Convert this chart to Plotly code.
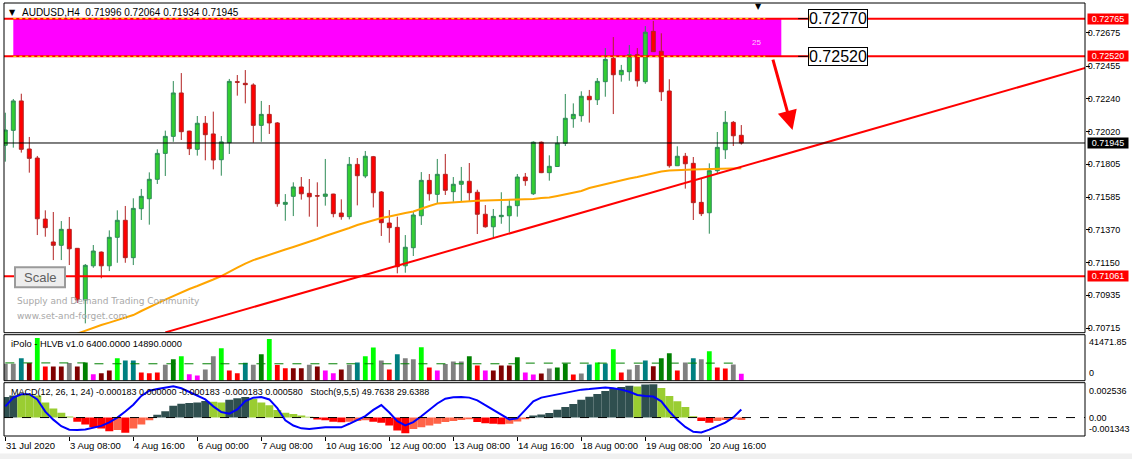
import plotly.graph_objects as go

# ---------------- data ----------------
tick_bars = [0, 8, 16, 24, 32, 40, 48, 56, 64, 72, 80, 88]
tick_labels = ["31 Jul 2020", "3 Aug 08:00", "4 Aug 16:00", "6 Aug 00:00", "7 Aug 08:00",
               "10 Aug 16:00", "12 Aug 00:00", "13 Aug 08:00", "14 Aug 16:00",
               "18 Aug 00:00", "19 Aug 08:00", "20 Aug 16:00"]

opens = [0.71930, 0.72029, 0.72224, 0.71905, 0.71845, 0.71440, 0.71288, 0.71266, 0.71372, 0.71246,
         0.70903, 0.71130, 0.71221, 0.71130, 0.71319, 0.71432, 0.71184, 0.71509, 0.71575, 0.71704,
         0.71876, 0.71989, 0.72277, 0.72024, 0.71903, 0.72076, 0.72005, 0.71834, 0.71947, 0.72352,
         0.72341, 0.72330, 0.72062, 0.72135, 0.72078, 0.71538, 0.71591, 0.71653, 0.71611, 0.71595,
         0.71591, 0.71606, 0.71480, 0.71456, 0.71803, 0.71726, 0.71854, 0.71620, 0.71414, 0.71385,
         0.71130, 0.71250, 0.71462, 0.71697, 0.71604, 0.71737, 0.71622, 0.71671, 0.71691, 0.71618,
         0.71472, 0.71389, 0.71456, 0.71462, 0.71529, 0.71719, 0.71608, 0.71950, 0.71748, 0.71789,
         0.71943, 0.72106, 0.72126, 0.72255, 0.72232, 0.72352, 0.72507, 0.72398, 0.72418, 0.72531,
         0.72352, 0.72686, 0.72554, 0.72290, 0.71794, 0.71857, 0.71810, 0.71551, 0.71482, 0.71761,
         0.71900, 0.72082, 0.71996]
highs = [0.72146, 0.72237, 0.72272, 0.71985, 0.71859, 0.71498, 0.71487, 0.71427, 0.71454, 0.71248,
         0.71142, 0.71268, 0.71225, 0.71365, 0.71498, 0.71527, 0.71578, 0.71640, 0.71750, 0.71903,
         0.72027, 0.72356, 0.72409, 0.72026, 0.72124, 0.72124, 0.72153, 0.71991, 0.72370, 0.72396,
         0.72429, 0.72341, 0.72224, 0.72197, 0.72084, 0.71606, 0.71684, 0.71719, 0.71706, 0.71684,
         0.71839, 0.71608, 0.71571, 0.71852, 0.71845, 0.71892, 0.71859, 0.71626, 0.71500, 0.71456,
         0.71334, 0.71487, 0.71752, 0.71739, 0.71839, 0.71872, 0.71719, 0.71786, 0.71812, 0.71635,
         0.71533, 0.71507, 0.71618, 0.71573, 0.71739, 0.71746, 0.71956, 0.71955, 0.71863, 0.71991,
         0.72270, 0.72208, 0.72288, 0.72297, 0.72376, 0.72575, 0.72648, 0.72463, 0.72595, 0.72575,
         0.72721, 0.72755, 0.72673, 0.72368, 0.71923, 0.71879, 0.71852, 0.71711, 0.71810, 0.72018,
         0.72157, 0.72091, 0.72064]
lows = [0.71821, 0.71914, 0.71881, 0.71748, 0.71334, 0.71323, 0.71168, 0.71168, 0.71135, 0.70883,
        0.70748, 0.71117, 0.71047, 0.71095, 0.71150, 0.71150, 0.71135, 0.71434, 0.71403, 0.71673,
        0.71726, 0.71953, 0.71965, 0.71865, 0.71861, 0.71830, 0.71770, 0.71728, 0.71872, 0.72259,
        0.72208, 0.71947, 0.71953, 0.72005, 0.71522, 0.71429, 0.71460, 0.71569, 0.71456, 0.71389,
        0.71529, 0.71452, 0.71436, 0.71438, 0.71531, 0.71712, 0.71517, 0.71328, 0.71283, 0.71080,
        0.71084, 0.71195, 0.71401, 0.71562, 0.71545, 0.71600, 0.71555, 0.71555, 0.71555, 0.71341,
        0.71383, 0.71319, 0.71409, 0.71352, 0.71456, 0.71661, 0.71600, 0.71745, 0.71695, 0.71788,
        0.71925, 0.72046, 0.72086, 0.72080, 0.72197, 0.72252, 0.72137, 0.72352, 0.72358, 0.72319,
        0.72338, 0.72549, 0.72224, 0.71781, 0.71794, 0.71642, 0.71434, 0.71460, 0.71343, 0.71744,
        0.71839, 0.71925, 0.71934]
closes = [0.72031, 0.72224, 0.71903, 0.71843, 0.71442, 0.71383, 0.71266, 0.71372, 0.71243, 0.70903,
          0.71133, 0.71228, 0.71130, 0.71319, 0.71432, 0.71184, 0.71511, 0.71591, 0.71704, 0.71876,
          0.71989, 0.72277, 0.72020, 0.71907, 0.72076, 0.72000, 0.71832, 0.71952, 0.72354, 0.72348,
          0.72332, 0.72062, 0.72135, 0.72078, 0.71542, 0.71551, 0.71653, 0.71608, 0.71588, 0.71593,
          0.71606, 0.71476, 0.71456, 0.71803, 0.71728, 0.71857, 0.71615, 0.71416, 0.71383, 0.71124,
          0.71253, 0.71467, 0.71697, 0.71608, 0.71737, 0.71631, 0.71671, 0.71691, 0.71615, 0.71472,
          0.71389, 0.71458, 0.71465, 0.71525, 0.71719, 0.71695, 0.71950, 0.71748, 0.71790, 0.71943,
          0.72109, 0.72135, 0.72255, 0.72232, 0.72354, 0.72500, 0.72398, 0.72427, 0.72531, 0.72358,
          0.72680, 0.72551, 0.72285, 0.71794, 0.71857, 0.71807, 0.71549, 0.71476, 0.71761, 0.71916,
          0.72082, 0.71993, 0.71945]

ma_start = 9
ma_values = [0.70680, 0.70700, 0.70717, 0.70737, 0.70753, 0.70770, 0.70787, 0.70803, 0.70830, 0.70853,
             0.70880, 0.70906, 0.70929, 0.70956, 0.70976, 0.70996, 0.71016, 0.71039, 0.71062, 0.71092,
             0.71118, 0.71145, 0.71168, 0.71185, 0.71201, 0.71218, 0.71238, 0.71255, 0.71271, 0.71288,
             0.71308, 0.71328, 0.71345, 0.71361, 0.71381, 0.71401, 0.71417, 0.71434, 0.71447, 0.71457,
             0.71470, 0.71480, 0.71490, 0.71510, 0.71527, 0.71543, 0.71547, 0.71553, 0.71557, 0.71560,
             0.71562, 0.71563, 0.71565, 0.71565, 0.71567, 0.71567, 0.71570, 0.71573, 0.71580, 0.71583,
             0.71593, 0.71603, 0.71611, 0.71626, 0.71646, 0.71659, 0.71673, 0.71686, 0.71696, 0.71709,
             0.71719, 0.71732, 0.71746, 0.71756, 0.71762, 0.71766, 0.71768, 0.71769, 0.71770, 0.71772,
             0.71774, 0.71775, 0.71776, 0.71777]

trend_bars = [20, 135]
trend_prices = [0.70688, 0.72443]

zone_bars = [1, 97]
zone_prices = [0.72520, 0.72770]
red_levels = [0.72770, 0.72520, 0.71061]
bid_price = 0.71945
axis_tags = [("0.72765", 0.72770, "#FF0000"), ("0.72520", 0.72520, "#FF0000"),
             ("0.71945", 0.71945, "#000000"), ("0.71061", 0.71061, "#FF0000")]
price_ticks = [0.72675, 0.72455, 0.72240, 0.72020, 0.71805, 0.71585, 0.71370, 0.71150, 0.70935, 0.70715]

volumes = [15600, 15600, 20600, 16200, 39300, 13100, 13100, 13100, 16200, 13100,
           16800, 5900, 6800, 9400, 20600, 18700, 18700, 7500, 6800, 7500,
           14700, 19700, 22500, 5900, 4700, 10300, 22500, 30000, 9400, 6800,
           16500, 14700, 24300, 38400, 14400, 11500, 11500, 11500, 14700, 13100,
           9400, 6800, 10300, 14700, 16800, 22500, 30600, 18700, 10300, 24300,
           20600, 19700, 30900, 12200, 9400, 15300, 17800, 17800, 22500, 14000,
           9400, 9400, 14000, 14000, 21500, 7500, 5600, 6600, 11200, 12200,
           15900, 5600, 6600, 15000, 16800, 15900, 29000, 7500, 10300, 14400,
           18700, 13400, 20600, 25300, 9400, 16800, 20600, 19700, 27100, 12200,
           11200, 15000, 6400]
vol_codes = "ggtmLrmmgmGpmmLttrrrgGLppggLrrtgGLrrmmgmppmgtLLgrtggLrpgggGrpmmmGppmgGGrgtLtLrggtmGGrgtgLrrgp"
vol_avg_bars = [0, 10, 64, 92]
vol_avg_values = [16400, 15600, 16200, 16200]
vol_max = 41471.85

macd_hist = [0.00150, 0.00160, 0.00175, 0.00170, 0.00160, 0.00110, 0.00065, 0.00035, 0.00008, -0.00030,
             -0.00050, -0.00070, -0.00080, -0.00100, -0.00090, -0.00110, -0.00080, -0.00050, -0.00020, 0.00020,
             0.00045, 0.00085, 0.00100, 0.00105, 0.00110, 0.00120, 0.00115, 0.00110, 0.00130, 0.00140,
             0.00150, 0.00135, 0.00110, 0.00090, 0.00055, 0.00035, 0.00025, 0.00015, 0.00005, -0.00015,
             -0.00020, -0.00030, -0.00035, -0.00030, -0.00025, -0.00020, -0.00030, -0.00038, -0.00058, -0.00095,
             -0.00114, -0.00084, -0.00071, -0.00058, -0.00046, -0.00033, -0.00025, -0.00018, -0.00013, -0.00033,
             -0.00041, -0.00046, -0.00048, -0.00046, -0.00028, -0.00013, 0.00015, 0.00023, 0.00033, 0.00056,
             0.00076, 0.00099, 0.00129, 0.00152, 0.00172, 0.00193, 0.00210, 0.00223, 0.00231, 0.00226,
             0.00241, 0.00243, 0.00215, 0.00157, 0.00119, 0.00076, 0.00010, -0.00025, -0.00038, -0.00025,
             -0.00018, -0.00013, -0.000183]
macd_codes = "DDGGGGGGGRRRRRSRSSSDDDDDDDGGDDDGGGGGGGGRRRRSSSRRRRRSSSSSSSSRRRRSSSDDDDDDDDDDDDDGDDGGGGGRRSSSS"
macd_max = 0.002536
macd_min = -0.001343

stoch = [55.6, 71.9, 78.4, 78.4, 68.6, 45.8, 30.7, 18.3, 11.8, 11.1,
         12.4, 16.3, 19.0, 25.5, 34.6, 45.8, 58.8, 75.2, 85.0, 88.2,
         90.8, 93.5, 89.5, 83.0, 76.5, 68.6, 55.6, 45.0, 42.0, 50.0,
         65.4, 71.9, 73.0, 68.6, 52.3, 29.4, 19.6, 14.4, 13.1, 15.0,
         16.3, 16.3, 16.3, 22.9, 29.4, 37.3, 49.0, 58.0, 44.0, 28.0,
         20.0, 26.0, 37.0, 49.0, 61.0, 70.0, 72.5, 73.0, 72.0, 67.0,
         58.0, 50.0, 41.0, 31.0, 33.0, 49.0, 65.0, 72.0, 75.0, 78.0,
         80.0, 84.0, 87.0, 88.0, 90.0, 91.0, 89.5, 87.0, 83.0, 77.0,
         75.0, 74.0, 65.0, 46.0, 30.0, 17.0, 8.0, 6.5, 12.0, 18.0,
         25.0, 35.0, 49.76]

header_text = "AUDUSD,H4&nbsp;&nbsp;0.71996 0.72064 0.71934 0.71945"
vol_header = "iPolo - HLVB v1.0 6400.0000 14890.0000"
macd_header = ("MACD(12, 26, 1, 24) -0.000183 0.000000 -0.000183 -0.000183 0.000580&nbsp;&nbsp;&nbsp;"
               "Stoch(9,5,5) 49.7638 29.6388")

# ---------------- styling ----------------
bars = list(range(len(opens)))
FONT = "Liberation Sans, Arial, sans-serif"
vol_colors = {"g": "#808080", "t": "#008080", "m": "#800000", "L": "#00FF00",
              "r": "#FF0000", "p": "#FF00FF", "G": "#008000"}
macd_colors = {"D": "#2F4F4F", "G": "#9ACD32", "R": "#FF0000", "S": "#FF6347"}

W, H = 1132, 459
ML, MR, MT, MB = 4, 47, 3, 23
PH = H - MT - MB
PW = W - ML - MR


def py(ypix):
    return (H - MB - ypix) / PH


def px(xpix):
    return (xpix - ML) / PW


main_dom = [py(332.7), 1.0]
vol_dom = [py(380.7), py(334.7)]
macd_dom = [0.0, py(382.7)]

fig = go.Figure()

fig.add_trace(go.Candlestick(
    x=bars, open=opens, high=highs, low=lows, close=closes,
    increasing=dict(line=dict(color="#2E8B57", width=1), fillcolor="#32CD32"),
    decreasing=dict(line=dict(color="#B22222", width=1), fillcolor="#FF0000"),
    whiskerwidth=0, hoverinfo="skip", xaxis="x", yaxis="y"))

fig.add_trace(go.Scatter(x=list(range(ma_start, ma_start + len(ma_values))), y=ma_values,
                         mode="lines", line=dict(color="#FFA500", width=2), yaxis="y",
                         hoverinfo="skip"))
fig.add_trace(go.Scatter(x=trend_bars, y=trend_prices, mode="lines",
                         line=dict(color="#FF0000", width=2), yaxis="y", hoverinfo="skip"))

fig.add_trace(go.Bar(x=bars, y=volumes, width=0.6,
                     marker=dict(color=[vol_colors[c] for c in vol_codes], line=dict(width=0)),
                     yaxis="y2", hoverinfo="skip"))
fig.add_trace(go.Scatter(x=vol_avg_bars, y=vol_avg_values, mode="lines",
                         line=dict(color="#008000", width=1, dash="dash", shape="hv"),
                         yaxis="y2", hoverinfo="skip"))

fig.add_trace(go.Bar(x=bars, y=macd_hist, width=1.0,
                     marker=dict(color=[macd_colors[c] for c in macd_codes], line=dict(width=0)),
                     yaxis="y3", hoverinfo="skip"))
fig.add_trace(go.Scatter(x=bars, y=stoch, mode="lines", line=dict(color="#0000FF", width=2),
                         yaxis="y4", hoverinfo="skip"))

shapes = []
shapes.append(dict(type="rect", xref="x", yref="y", x0=zone_bars[0], x1=zone_bars[1],
                   y0=zone_prices[0], y1=zone_prices[1], fillcolor="#FF00FF",
                   line=dict(width=0), layer="below"))
for lv in red_levels:
    shapes.append(dict(type="line", xref="paper", yref="y", x0=0, x1=1, y0=lv, y1=lv,
                       line=dict(color="#FF0000", width=2), layer="above"))
for lv in zone_prices:
    shapes.append(dict(type="line", xref="x", yref="y", x0=zone_bars[0], x1=zone_bars[1] - 2,
                       y0=lv, y1=lv, line=dict(color="#FFFF00", width=1, dash="dot"), layer="above"))
shapes.append(dict(type="line", xref="paper", yref="y", x0=0, x1=1, y0=bid_price, y1=bid_price,
                   line=dict(color="#000000", width=1), layer="above"))
for lv in zone_prices:
    shapes.append(dict(type="line", xref="x", yref="y", x0=99.1, x1=100.3, y0=lv, y1=lv,
                       line=dict(color="#000000", width=1), layer="above"))
shapes.append(dict(type="line", xref="paper", yref="y3", x0=0, x1=1, y0=0, y1=0,
                   line=dict(color="#000000", width=1, dash="dash"), layer="above"))
for dom in (main_dom, vol_dom, macd_dom):
    shapes.append(dict(type="rect", xref="paper", yref="paper", x0=0, x1=1, y0=dom[0], y1=dom[1],
                       line=dict(color="#000000", width=1), fillcolor="rgba(0,0,0,0)",
                       layer="above"))
shapes.append(dict(type="rect", xref="paper", yref="paper", x0=px(15), x1=px(65),
                   y0=py(287.3), y1=py(267.3), fillcolor="#EDEDED",
                   line=dict(color="#9A9A9A", width=2), layer="above"))
shapes.append(dict(type="rect", xref="paper", yref="paper", x0=-0.01, x1=1.05,
                   y0=py(459), y1=py(453.5), fillcolor="#F0F0F0", line=dict(width=0),
                   layer="above"))

ann = []
ann.append(dict(text="▼", xref="paper", yref="paper", x=px(12), y=py(12.5), showarrow=False,
                font=dict(size=8, color="#000000", family="DejaVu Sans"),
                xanchor="center", yanchor="middle"))
ann.append(dict(text=header_text, xref="paper", yref="paper", x=px(20), y=py(12.5),
                showarrow=False, font=dict(size=10, color="#000000", family=FONT),
                xanchor="left", yanchor="middle"))
ann.append(dict(text="▼", xref="paper", yref="paper", x=px(758), y=py(6), showarrow=False,
                font=dict(size=8, color="#000000", family="DejaVu Sans"),
                xanchor="center", yanchor="middle"))
ann.append(dict(text=vol_header, xref="paper", yref="paper", x=px(9), y=py(344), showarrow=False,
                font=dict(size=9.3, color="#000000", family=FONT), xanchor="left", yanchor="middle"))
ann.append(dict(text=macd_header, xref="paper", yref="paper", x=px(9), y=py(392), showarrow=False,
                font=dict(size=9, color="#000000", family=FONT), xanchor="left", yanchor="middle"))
for txt, yp in ((f"{vol_max:.2f}", 342), ("0", 373.3), (f"{macd_max:.6f}", 391),
                ("0.00", 418.3), (f"{macd_min:.6f}", 429.3)):
    ann.append(dict(text=txt, xref="paper", yref="paper", x=px(1087), y=py(yp), showarrow=False,
                    font=dict(size=9, color="#000000", family=FONT), xanchor="left",
                    yanchor="middle"))
for txt, lv, col in axis_tags:
    ann.append(dict(text=txt, xref="paper", yref="y", x=1, xshift=2, y=lv, showarrow=False,
                    font=dict(size=9, color="#FFFFFF", family=FONT), bgcolor=col,
                    width=40, height=10, borderpad=0, xanchor="left", yanchor="middle"))
for lv, txt in zip(zone_prices[::-1], ("0.72770", "0.72520")):
    ann.append(dict(text=txt, xref="x", yref="y", x=100.3, y=lv, showarrow=False,
                    font=dict(size=16, color="#000000", family=FONT), bgcolor="#FFFFFF",
                    bordercolor="#000000", borderwidth=1, borderpad=0,
                    xanchor="left", yanchor="middle"))
ann.append(dict(text="25", xref="x", yref="y", x=93.9, y=0.72611, showarrow=False,
                font=dict(size=8, color="#FFC8FF", family=FONT)))
ann.append(dict(text="", xref="x", yref="y", x=98.4, y=0.72031, ax=-20, ay=-72,
                showarrow=True, arrowhead=2, arrowsize=1.3, arrowwidth=3, arrowcolor="#FF0000"))
ann.append(dict(text="Supply and Demand Trading Community", xref="paper", yref="paper",
                x=px(15), y=py(300.7), showarrow=False,
                font=dict(size=9, color="#A8A8A8", family="DejaVu Sans"),
                xanchor="left", yanchor="middle"))
ann.append(dict(text="www.set-and-forget.com", xref="paper", yref="paper",
                x=px(15), y=py(316), showarrow=False,
                font=dict(size=9, color="#A8A8A8", family="DejaVu Sans"),
                xanchor="left", yanchor="middle"))
ann.append(dict(text="Scale", xref="paper", yref="paper", x=px(40), y=py(277.3), showarrow=False,
                font=dict(size=13, color="#606060", family=FONT), xanchor="center",
                yanchor="middle"))
for b, lab in zip(tick_bars, tick_labels):
    ann.append(dict(text=lab, xref="x", yref="paper", x=b, xshift=-1, y=py(445.7),
                    showarrow=False, font=dict(size=9.5, color="#000000", family=FONT),
                    xanchor="left", yanchor="middle"))

fig.update_layout(
    width=W, height=H, margin=dict(l=ML, r=MR, t=MT, b=MB),
    paper_bgcolor="#FFFFFF", plot_bgcolor="#FFFFFF", showlegend=False, barmode="overlay",
    xaxis=dict(range=[-0.1625, 134.96], anchor="y3", tickvals=tick_bars, ticks="outside",
               ticklen=4, tickcolor="#000000", showticklabels=False, showgrid=False,
               zeroline=False, rangeslider=dict(visible=False), automargin=False),
    yaxis=dict(domain=main_dom, range=[0.70686, 0.72874], side="right", anchor="x",
               tickvals=price_ticks, ticktext=[f"{v:.5f}" for v in price_ticks],
               ticks="outside", ticklen=4, tickcolor="#000000", ticklabelstandoff=-4,
               tickfont=dict(size=9, color="#000000", family=FONT),
               showgrid=False, zeroline=False, automargin=False),
    yaxis2=dict(domain=vol_dom, range=[0, 42400], anchor="x", side="right",
                showticklabels=False, showgrid=False, zeroline=False, automargin=False),
    yaxis3=dict(domain=macd_dom, range=[macd_min, macd_max], anchor="x", side="right",
                showticklabels=False, showgrid=False, zeroline=False, automargin=False),
    yaxis4=dict(overlaying="y3", range=[0, 100], visible=False, automargin=False),
    shapes=shapes, annotations=ann,
)

fig.write_html("out.html", config={"displayModeBar": False, "staticPlot": True})

# remove the browser's default page margin so the figure sits at the window origin
with open("out.html", encoding="utf-8") as f:
    page = f.read()
page = page.replace("<head>", "<head><style>html,body{margin:0;padding:0;overflow:hidden;}</style>", 1)
with open("out.html", "w", encoding="utf-8") as f:
    f.write(page)
